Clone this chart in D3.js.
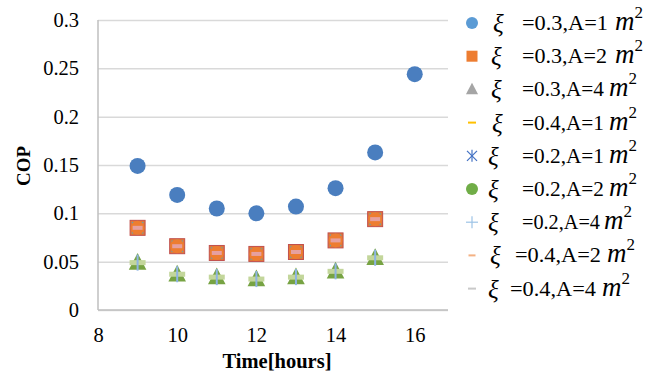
<!DOCTYPE html>
<html>
<head>
<meta charset="utf-8">
<script src="https://cdn.jsdelivr.net/npm/d3@7"></script>
<style>
body{margin:0;background:#fff;}
</style>
</head>
<body>
<div id="chart"></div>
<script>
// data
var hours=[9,10,11,12,13,14,15,16];
var copA1=[0.149,0.119,0.105,0.100,0.107,0.126,0.163,0.244];
var copA2=[0.085,0.066,0.059,0.058,0.060,0.072,0.094];
var copA4=[0.049,0.037,0.034,0.032,0.034,0.040,0.054];
var xTicks=[8,10,12,14,16];
var yTicks=[0,0.05,0.1,0.15,0.2,0.25,0.3];
var yTickLabels=["0","0.05","0.1","0.15","0.2","0.25","0.3"];
var xi=["0.3","0.3","0.3","0.4","0.2","0.2","0.2","0.4","0.4"];
var area=["1","2","4","1","1","2","4","2","4"];
var seriesValues=[copA1,copA2,copA4,copA1,copA1,copA2,copA4,copA2,copA4];

var font="Liberation Serif, DejaVu Serif, serif";
var width=659,height=385;
var m={left:98,top:20,right:211,bottom:75};
var w=width-m.left-m.right,h=height-m.top-m.bottom;

var svg=d3.select("#chart").append("svg").attr("width",width).attr("height",height)
  .attr("font-family",font);

var x=d3.scaleLinear().domain([8,16.84]).range([m.left,m.left+w]);
var y=d3.scaleLinear().domain([0,0.3]).range([m.top+h,m.top]);

// gridlines + y labels
var yAxis=svg.append("g").attr("transform","translate("+m.left+",0)")
  .call(d3.axisLeft(y).tickValues(yTicks).tickSize(-w).tickPadding(19)
  .tickFormat(function(d,i){return yTickLabels[i];}));
yAxis.attr("font-family",null).attr("font-size",null);
yAxis.select(".domain").remove();
yAxis.selectAll(".tick line").attr("stroke","#d9d9d9").attr("stroke-width",1.5);
yAxis.selectAll(".tick text").attr("font-size",20.5);

var xAxis=svg.append("g").attr("transform","translate(0,"+(m.top+h)+")")
  .call(d3.axisBottom(x).tickValues(xTicks).tickSize(0).tickPadding(17));
xAxis.attr("font-family",null).attr("font-size",null);
xAxis.select(".domain").remove();
xAxis.selectAll(".tick text").attr("font-size",20.5);

// axis lines
svg.append("line").attr("x1",m.left).attr("x2",m.left).attr("y1",m.top).attr("y2",m.top+h)
  .attr("stroke","#bfbfbf").attr("stroke-width",1.5);
svg.append("line").attr("x1",m.left).attr("x2",m.left+w).attr("y1",m.top+h).attr("y2",m.top+h)
  .attr("stroke","#bfbfbf").attr("stroke-width",1.5);

svg.append("text").attr("x",277).attr("y",368).attr("text-anchor","middle")
  .attr("font-size",20.5).attr("font-weight","bold").text("Time[hours]");
svg.append("text").attr("transform","translate(30,166) rotate(-90)").attr("text-anchor","middle")
  .attr("font-size",19).attr("font-weight","bold").text("COP");

// marker drawers
function circle(g,r,fill){g.append("circle").attr("r",r).attr("fill",fill);}
function square(g,s,fill,stroke){g.append("rect").attr("x",-s/2).attr("y",-s/2).attr("width",s).attr("height",s).attr("fill",fill).attr("stroke",stroke||"none");}
function tri(g,s,fill){g.append("path").attr("d","M0,"+(-s*0.6)+"L"+(s*0.55)+","+(s*0.45)+"L"+(-s*0.55)+","+(s*0.45)+"Z").attr("fill",fill);}
function hbar(g,len,th,col){g.append("rect").attr("x",-len/2).attr("y",-th/2).attr("width",len).attr("height",th).attr("fill",col);}
function vbar(g,len,th,col){g.append("rect").attr("x",-th/2).attr("y",-len/2).attr("width",th).attr("height",len).attr("fill",col);}
function star(g,s,col,sw){
  [[-s,-s,s,s],[-s,s,s,-s],[0,-s*1.2,0,s*1.2]].forEach(function(l){
    g.append("line").attr("x1",l[0]).attr("y1",l[1]).attr("x2",l[2]).attr("y2",l[3]).attr("stroke",col).attr("stroke-width",sw);});
}
function plus(g,s,col){
  g.append("line").attr("x1",-s).attr("x2",s).attr("stroke",col).attr("stroke-width",1.2);
  g.append("line").attr("y1",-s).attr("y2",s).attr("stroke",col).attr("stroke-width",1.2);
}

// how each series looks inside the plot
var plotMarks=[
  function(g){circle(g,8,"#4a7ebf");},
  function(g){square(g,15,"#e0783a","#c0504d");},
  function(g){tri(g,16,"#77a343");},
  function(g){hbar(g,9,2,"#ffc000");},
  function(g){star(g,5.5,"#4bacc6",1.5);},
  function(g){circle(g,7,"#ed7d31");},
  function(g){vbar(g,16,2,"#8eb4e3");},
  function(g){hbar(g,10,4,"#e6a0a0");},
  function(g){hbar(g,16,5,"#c3d69b");}
];
// draw order inside the plot (asterisk goes under the circle, and again in the A=2 stack)
var plotOrder=[3,4,0,1,4,5,7,2,8,6];
plotOrder.forEach(function(si,k){
  var vals=seriesValues[si];
  if(si===4&&k>1)vals=copA2;
  svg.append("g").selectAll("g").data(vals).enter().append("g")
    .attr("transform",function(d,i){return "translate("+x(hours[i])+","+y(d)+")";})
    .each(function(){plotMarks[si](d3.select(this));});
});

// legend
var legendMarks=[
  function(g){circle(g,6,"#5b9bd5");},
  function(g){square(g,11,"#ed7d31");},
  function(g){tri(g,11,"#a5a5a5");},
  function(g){hbar(g,8,2,"#ffc000");},
  function(g){star(g,5,"#4472c4",1.2);},
  function(g){circle(g,6,"#70ad47");},
  function(g){plus(g,6,"#9dc3e6");},
  function(g){hbar(g,7,2,"#f4b183");},
  function(g){hbar(g,8,2,"#c9c9c9");}
];
var legXi=[493,491,491,492,488,488,488,490,488];
var legEq=[522,522,522,522,522,522,522,515,510];
var legLen=[86,85,82,82,82,82,78,86,86];
var legM=[615,615,609,609,609,609,604,607,602];
var leg=svg.append("g");
xi.forEach(function(v,i){
  var cy=23+i*33.2;
  var g=leg.append("g").attr("transform","translate(0,"+cy+")");
  legendMarks[i](g.append("g").attr("transform","translate(472,0)"));
  g.append("text").attr("x",legXi[i]).attr("y",9).attr("font-size",25).attr("font-style","italic").text("\u03be");
  g.append("text").attr("x",legEq[i]).attr("y",7).attr("font-size",21.5)
    .attr("textLength",legLen[i]).attr("lengthAdjust","spacingAndGlyphs").text("="+v+",A="+area[i]);
  var t=g.append("text").attr("x",legM[i]).attr("y",7);
  t.append("tspan").attr("font-size",27).attr("font-style","italic").text("m");
  t.append("tspan").attr("dy",-12).attr("font-size",17).text("2");
});

svg.selectAll("text").attr("fill","#000");
</script>
</body>
</html>
